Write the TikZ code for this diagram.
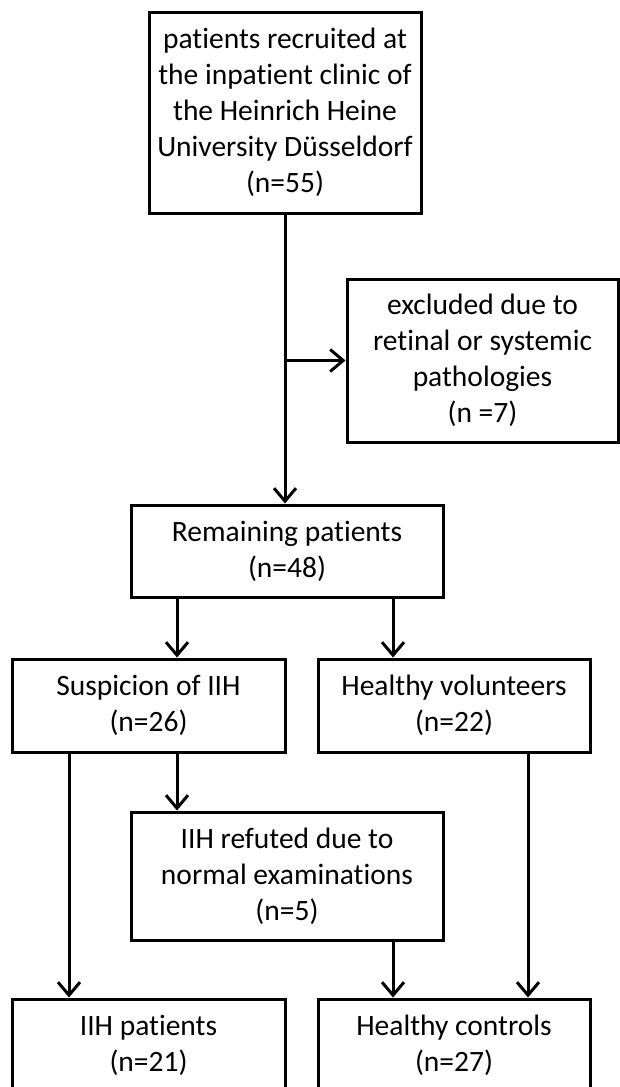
\documentclass[tikz,border=0pt]{standalone}
\usepackage{fontspec}
\setmainfont[Ligatures = NoCommon]{Carlito}
\usepackage{tikz}
\usetikzlibrary{
  arrows.meta
}

\begin{document}
\begin{tikzpicture}[
    x = 1pt,
    y = -1pt,
    % Boxes.
    flowbox/.style = {
      draw = black,
      line width = 3pt,
      align = center,
      inner sep = 0pt,
      font = \fontsize{29.5pt}{36pt}\selectfont
    },
    widebox/.style = {
      flowbox,
      minimum width = 312pt
    },
    sidebox/.style = {
      flowbox,
      minimum width = 272pt
    },
    % Connectors.
    flowarrow/.style = {
      line width = 3pt,
      -{Straight Barb[length = 13pt, width = 22pt]}
    }
  ]

  % Canvas.
  \fill[white] (0,0) rectangle (619,1087);
  \useasboundingbox (0,0) rectangle (619,1087);

  % Columns of the connectors.
  \coordinate (farl) at (69,0);
  \coordinate (lcol) at (177,0);
  \coordinate (rcol) at (393,0);
  \coordinate (farr) at (528,0);

  % Boxes.
  \node[sidebox, minimum height = 201pt] (recruited) at (285,112.5)
    {patients recruited at\\ the inpatient clinic of\\ the Heinrich Heine\\ University Düsseldorf\\ (n=55)};
  \node[sidebox, minimum width = 271pt, minimum height = 163pt] (excluded) at (482.5,360.5)
    {excluded due to\\ retinal or systemic\\ pathologies\\ (n =7)};
  \node[widebox, minimum height = 92pt] (remaining) at (287,551)
    {Remaining patients\\ (n=48)};
  \node[sidebox, minimum width = 273pt, minimum height = 93pt] (suspicion) at (148.5,705.5)
    {Suspicion of IIH\\ (n=26)};
  \node[sidebox, minimum height = 93pt] (volunteers) at (454,705.5)
    {Healthy volunteers\\ (n=22)};
  \node[widebox, minimum height = 128pt] (refuted) at (287,876)
    {IIH refuted due to\\ normal examinations\\ (n=5)};
  \node[sidebox, minimum width = 273pt, minimum height = 93pt] (iihpat) at (148.5,1045.5)
    {IIH patients\\ (n=21)};
  \node[sidebox, minimum height = 93pt] (controls) at (454,1045.5)
    {Healthy controls\\ (n=27)};

  % Links.
  \draw[flowarrow] (recruited.south) -- (recruited.south |- remaining.north);
  \draw[flowarrow] (recruited.south |- excluded.west) -- (excluded.west);
  \draw[flowarrow] (remaining.south -| lcol) -- (suspicion.north -| lcol);
  \draw[flowarrow] (remaining.south -| rcol) -- (volunteers.north -| rcol);
  \draw[flowarrow] (suspicion.south -| farl) -- (iihpat.north -| farl);
  \draw[flowarrow] (suspicion.south -| lcol) -- (refuted.north -| lcol);
  \draw[flowarrow] (refuted.south -| rcol) -- (controls.north -| rcol);
  \draw[flowarrow] (volunteers.south -| farr) -- (controls.north -| farr);
\end{tikzpicture}
\end{document}
